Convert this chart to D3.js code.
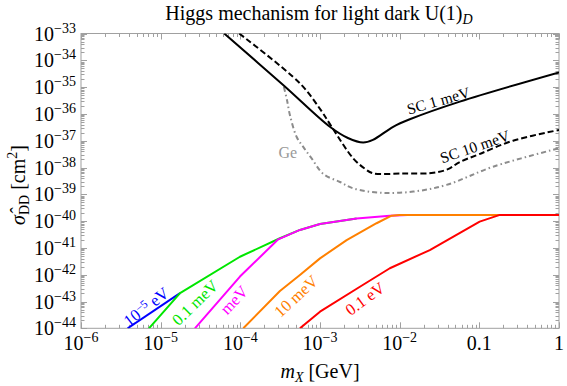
<!DOCTYPE html>
<html><head><meta charset="utf-8">
<script src="https://cdn.jsdelivr.net/npm/d3@7"></script>
<style>body{margin:0;background:#fff} svg{display:block} text{font-family:"Liberation Serif","Times New Roman",serif;}</style>
</head><body><svg id="c" width="567" height="386"></svg>
<script>
// ---------- data ----------
const xTickValues = [1e-6, 1e-5, 1e-4, 1e-3, 1e-2, 0.1, 1];
const xTickLabels = ["10^\u22126", "10^\u22125", "10^\u22124", "10^\u22123", "10^\u22122", "0.1", "1"];
const yTickValues = [1e-33,1e-34,1e-35,1e-36,1e-37,1e-38,1e-39,1e-40,1e-41,1e-42,1e-43,1e-44];
const yTickLabels = ["10^\u221233","10^\u221234","10^\u221235","10^\u221236","10^\u221237","10^\u221238","10^\u221239","10^\u221240","10^\u221241","10^\u221242","10^\u221243","10^\u221244"];

const sc1X = [6.28e-5, 3.45e-4, 1.33e-3, 2.24e-3, 3.48e-3, 4.61e-3, 8.28e-3, 1.34e-2, 5.69e-2, 1];
const sc1Y = [1e-33, 1.20e-35, 3.31e-37, 1.26e-37, 8.51e-38, 1.07e-37, 3.31e-37, 6.31e-37, 2.88e-36, 3.55e-35];

const sc10X = [9.68e-5, 5.60e-4, 1.02e-3, 1.40e-3, 2.61e-3, 3.66e-3, 4.6e-3, 1.1e-2, 2.5e-2, 3.98e-2, 5.69e-2, 0.1, 0.265, 1];
const sc10Y = [1e-33, 1.38e-35, 1.41e-36, 3.31e-37, 2.19e-38, 9.0e-39, 6.1e-39, 6.0e-39, 6.2e-39, 8.5e-39, 1.6e-38, 3.16e-38, 1e-37, 2.51e-37];

const geX = [3.52e-4, 3.85e-4, 4.19e-4, 5.08e-4, 6.28e-4, 7.85e-4, 1.10e-3, 1.78e-3, 2.61e-3, 5.65e-3, 1.48e-2, 3.87e-2, 0.149, 1];
const geY = [1.02e-35, 3.31e-36, 9.12e-37, 1.41e-37, 5.37e-38, 2.19e-38, 5.75e-39, 2.88e-39, 1.66e-39, 1.15e-39, 1.26e-39, 2.24e-39, 1.07e-38, 5.25e-38];

const e5eVX = [3.85e-6, 1.75e-5];
const e5eVY = [1e-44, 2.04e-43];

const p1meVX = [7.13e-6, 1.75e-5, 9.89e-5, 3.14e-4, 5.60e-4, 1e-3, 2.88e-3];
const p1meVY = [1e-44, 2.04e-43, 4.68e-42, 2.29e-41, 4.68e-41, 7.76e-41, 1.26e-40];

const meVX = [2.69e-5, 9.89e-5, 2.99e-4, 5.60e-4, 1e-3, 2.88e-3, 7.53e-3, 1.26e-2];
const meVY = [1e-44, 8.51e-43, 2.09e-41, 4.68e-41, 7.76e-41, 1.26e-40, 1.60e-40, 1.70e-40];

const m10meVX = [1.09e-4, 3.14e-4, 5.60e-4, 1e-3, 2.16e-3, 5.13e-3, 7.91e-3, 1e-2, 0.5];
const m10meVY = [1e-44, 2.45e-43, 9.77e-43, 4.07e-42, 1.95e-41, 8.32e-41, 1.60e-40, 1.70e-40, 1.70e-40];

const p1eVX = [5.60e-4, 1e-3, 3.17e-3, 7.53e-3, 2.39e-2, 0.101, 0.181, 1];
const p1eVY = [1e-44, 4.17e-44, 3.55e-43, 1.74e-42, 8.32e-42, 9.55e-41, 1.70e-40, 1.70e-40];

// ---------- layout ----------
const L = 81, R = 559, T = 33.5, B = 328.3;
const svg = d3.select("#c");
const x = d3.scaleLog().domain([1e-6, 1]).range([L, R]);
const y = d3.scaleLog().domain([1e-44, 1e-33]).range([B, T]);
const frameCol = "#a0a0a0";

svg.append("defs").append("clipPath").attr("id","clip")
  .append("rect").attr("x",L).attr("y",T).attr("width",R-L).attr("height",B-T);

// ticks
const xt = x.ticks();
const yt = y.ticks(20);
const isMajor = v => Math.abs(Math.log10(v) - Math.round(Math.log10(v))) < 1e-6;
const tg = svg.append("g").attr("stroke", frameCol).attr("stroke-width", 1);
xt.forEach(v => {
  const len = isMajor(v) ? 6 : 3.5;
  const px = Math.round(x(v)) + 0.5;
  tg.append("line").attr("x1",px).attr("x2",px).attr("y1",B).attr("y2",B-len);
  tg.append("line").attr("x1",px).attr("x2",px).attr("y1",T).attr("y2",T+len);
});
yt.forEach(v => {
  const len = isMajor(v) ? 6 : 3.5;
  const py = Math.round(y(v)) + 0.5;
  tg.append("line").attr("x1",L).attr("x2",L+len).attr("y1",py).attr("y2",py);
  tg.append("line").attr("x1",R).attr("x2",R-len).attr("y1",py).attr("y2",py);
});
svg.append("rect").attr("x",L).attr("y",T).attr("width",R-L).attr("height",B-T)
  .attr("fill","none").attr("stroke",frameCol).attr("stroke-width",1);

// tick labels
function powLabel(sel, s, supSize, supDy) {
  const parts = s.split("^");
  sel.append("tspan").text(parts[0]);
  if (parts.length > 1) sel.append("tspan").attr("dy", supDy).attr("font-size", supSize).text(parts[1]);
}
xTickValues.forEach((v, i) => {
  const t = svg.append("text").attr("x", x(v)).attr("y", 350).attr("text-anchor","middle")
    .attr("font-size", 20).attr("fill","#000");
  powLabel(t, xTickLabels[i], 14, -8);
});
yTickValues.forEach((v, i) => {
  const t = svg.append("text").attr("x", 76).attr("y", y(v) + 7).attr("text-anchor","end")
    .attr("font-size", 20).attr("fill","#000");
  powLabel(t, yTickLabels[i], 14, -8);
});

// curves
const plot = svg.append("g").attr("clip-path","url(#clip)");
function draw(xs, ys, color, dash, curve) {
  const pts = xs.map((v, i) => [v, ys[i]]);
  plot.append("path").datum(pts)
    .attr("d", d3.line().x(d => x(d[0])).y(d => y(d[1])).curve(curve))
    .attr("fill","none").attr("stroke",color).attr("stroke-width",2)
    .attr("stroke-dasharray", dash).attr("stroke-linejoin","round");
}
const smooth = d3.curveCatmullRom.alpha(0.5);
draw(geX, geY, "#8c8c8c", "5,3,1.5,3", smooth);
draw(sc10X, sc10Y, "#000", "6,3", smooth);
draw(sc1X, sc1Y, "#000", null, smooth);
draw(e5eVX, e5eVY, "#0000ff", null, d3.curveLinear);
draw(p1meVX, p1meVY, "#00e600", null, d3.curveLinear);
draw(meVX, meVY, "#ff00ff", null, d3.curveLinear);
draw(m10meVX, m10meVY, "#ff8000", null, d3.curveLinear);
draw(p1eVX, p1eVY, "#ff0000", null, d3.curveLinear);

// curve labels
function curveLabel(mx, sg, ang, color, size, parts) {
  const t = svg.append("text")
    .attr("transform", `translate(${x(mx)},${y(sg)}) rotate(${ang})`)
    .attr("text-anchor","middle").attr("dy","0.35em")
    .attr("font-size", size).attr("fill", color);
  parts.forEach(p => {
    const s = t.append("tspan").text(p.t);
    if (p.sup) s.attr("font-size", size*0.7).attr("dy", -5);
    if (p.down) s.attr("dy", 5);
  });
}
curveLabel(3.06e-2, 3.16e-36, -16, "#000", 15.5, [{t:"SC 1 meV"}]);
curveLabel(8.77e-2, 6.08e-38, -19, "#000", 15.5, [{t:"SC 10 meV"}]);
curveLabel(3.95e-4, 3.63e-38, 0, "#999", 16, [{t:"Ge"}]);
curveLabel(6.55e-6, 6.46e-44, -38, "#0000ff", 16.5, [{t:"10"},{t:"\u22125",sup:true},{t:" eV",down:true}]);
curveLabel(2.69e-5, 9.12e-44, -44, "#00e600", 16.5, [{t:"0.1 meV"}]);
curveLabel(8.32e-5, 1.15e-43, -47, "#ff00ff", 16.5, [{t:"meV"}]);
curveLabel(4.99e-4, 1.60e-43, -43, "#ff8000", 16.5, [{t:"10 meV"}]);
curveLabel(3.66e-3, 1.29e-43, -36, "#ff0000", 16.5, [{t:"0.1 eV"}]);

// title
const title = svg.append("text").attr("x", 319).attr("y", 20).attr("text-anchor","middle")
  .attr("font-size", 20).attr("fill","#000");
title.append("tspan").text("Higgs mechanism for light dark U(1)");
title.append("tspan").attr("font-style","italic").attr("font-size",14).attr("dy",4).text("D");

// x axis label
const xl = svg.append("text").attr("x", 320).attr("y", 378).attr("text-anchor","middle")
  .attr("font-size", 20).attr("fill","#000");
xl.append("tspan").attr("font-style","italic").text("m");
xl.append("tspan").attr("font-style","italic").attr("font-size",14).attr("dy",4).text("X");
xl.append("tspan").attr("dy",-4).text(" [GeV]");

// y axis label
const yl = svg.append("text").attr("transform","translate(25,185) rotate(-90)")
  .attr("text-anchor","middle").attr("font-size", 20).attr("fill","#000");
yl.append("tspan").attr("font-style","italic").text("\u03C3\u0302");
yl.append("tspan").attr("font-size",14).attr("dy",4).text("DD");
yl.append("tspan").attr("dy",-4).text(" [cm");
yl.append("tspan").attr("font-size",14).attr("dy",-8).text("2");
yl.append("tspan").attr("dy",8).text("]");
</script></body></html>
